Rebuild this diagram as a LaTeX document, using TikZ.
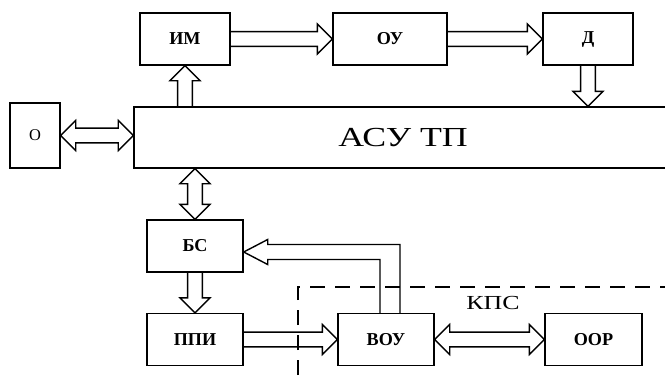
\documentclass[tikz,border=0pt]{standalone}
\usepackage{fontspec}
\setmainfont{Liberation Serif}
\newfontfamily\widefont{Liberation Serif}[FakeStretch=1.3]
\usepackage{tikz}
\usetikzlibrary{calc}

\begin{document}
\begin{tikzpicture}[
    x=0.3mm, y=-0.3mm,
    line width=1.2pt,
    block/.style={draw, rectangle, minimum width=27mm, minimum height=15.6mm, inner sep=0pt, font=\fontsize{15.5}{17}\selectfont\bfseries},
    fat/.style={to path={
        ($(\tikztostart)!2.2mm!90:(\tikztotarget)$)
        -- ($(\tikztotarget)!4.5mm!(\tikztostart)!2.2mm!-90:(\tikztostart)$)
        -- ($(\tikztotarget)!4.5mm!(\tikztostart)!4.5mm!-90:(\tikztostart)$)
        -- (\tikztotarget)
        -- ($(\tikztotarget)!4.5mm!(\tikztostart)!4.5mm!90:(\tikztostart)$)
        -- ($(\tikztotarget)!4.5mm!(\tikztostart)!2.2mm!90:(\tikztostart)$)
        -- ($(\tikztostart)!2.2mm!-90:(\tikztotarget)$)}},
    fatboth/.style={to path={
        ($(\tikztostart)!4.5mm!(\tikztotarget)!2.2mm!90:(\tikztotarget)$)
        -- ($(\tikztotarget)!4.5mm!(\tikztostart)!2.2mm!-90:(\tikztostart)$)
        -- ($(\tikztotarget)!4.5mm!(\tikztostart)!4.5mm!-90:(\tikztostart)$)
        -- (\tikztotarget)
        -- ($(\tikztotarget)!4.5mm!(\tikztostart)!4.5mm!90:(\tikztostart)$)
        -- ($(\tikztotarget)!4.5mm!(\tikztostart)!2.2mm!90:(\tikztostart)$)
        -- ($(\tikztostart)!4.5mm!(\tikztotarget)!2.2mm!-90:(\tikztotarget)$)
        -- ($(\tikztostart)!4.5mm!(\tikztotarget)!4.5mm!-90:(\tikztotarget)$)
        -- (\tikztostart)
        -- ($(\tikztostart)!4.5mm!(\tikztotarget)!4.5mm!90:(\tikztotarget)$)
        -- cycle}},
    kpsline/.style={dash pattern=on 4.5mm off 3mm}
]

\useasboundingbox (0,0) rectangle (665,382);
\clip (0,0) rectangle (665,382);

% Верхний ряд
\node[block] (IM) at (185,39) {ИМ};
\node[block, minimum width=34.2mm] (OU) at (390,39) {ОУ};
\node[block] (D) at (588,39) {Д};

% Оператор и система
\node[block, minimum width=15mm, minimum height=19.5mm, font=\fontsize{14}{16}\selectfont] (O) at (35,135.5) {О};
\node[block, minimum width=161.4mm, minimum height=18.3mm, font=\fontsize{23.5}{26}\widefont] (ASU) at (403,137.5) {АСУ ТП};

% Нижняя часть
\node[block, minimum width=28.8mm] (BS) at (195,246) {БС};
\node[block, minimum width=28.8mm] (PPI) at (195,339.5) {ППИ};
\node[block, minimum width=28.8mm] (VOU) at (386,339.5) {ВОУ};
\node[block, minimum width=29.1mm] (OOR) at (593.5,339.5) {ООР};

% Граница КПС
\draw[kpsline] (298,400) -- (298,287) -- (700,287);
\node[font=\fontsize{17}{19}\widefont] (KPS) at (493,303) {КПС};

% Стрелки
\draw[fat] (ASU.north -| IM.south) to (IM.south);
\draw[fat] (IM.east) to (OU.west);
\draw[fat] (OU.east) to (D.west);
\draw[fat] (D.south) to (D.south |- ASU.north);
\draw[fatboth] (O.east) to (O.east -| ASU.west);
\draw[fatboth] (ASU.south -| BS.north) to (BS.north);
\draw[fat] (BS.south) to (PPI.north);
\draw[fat] (PPI.east) to (VOU.west);
\draw[fatboth] (VOU.east) to (OOR.west);

% Обратная связь ВОУ -> БС
\coordinate (fbs) at ($(VOU.north)+(4,0)$);
\coordinate (fbt) at ($(BS.east)+(0,6)$);
\draw ($(fbs)+(10,0)$) |- ($(fbt)+(24,-7.5)$) -- ($(fbt)+(24,-12.5)$) -- (fbt)
    -- ($(fbt)+(24,12.5)$) -- ($(fbt)+(24,7.5)$) -| ($(fbs)+(-10,0)$);

\end{tikzpicture}
\end{document}
